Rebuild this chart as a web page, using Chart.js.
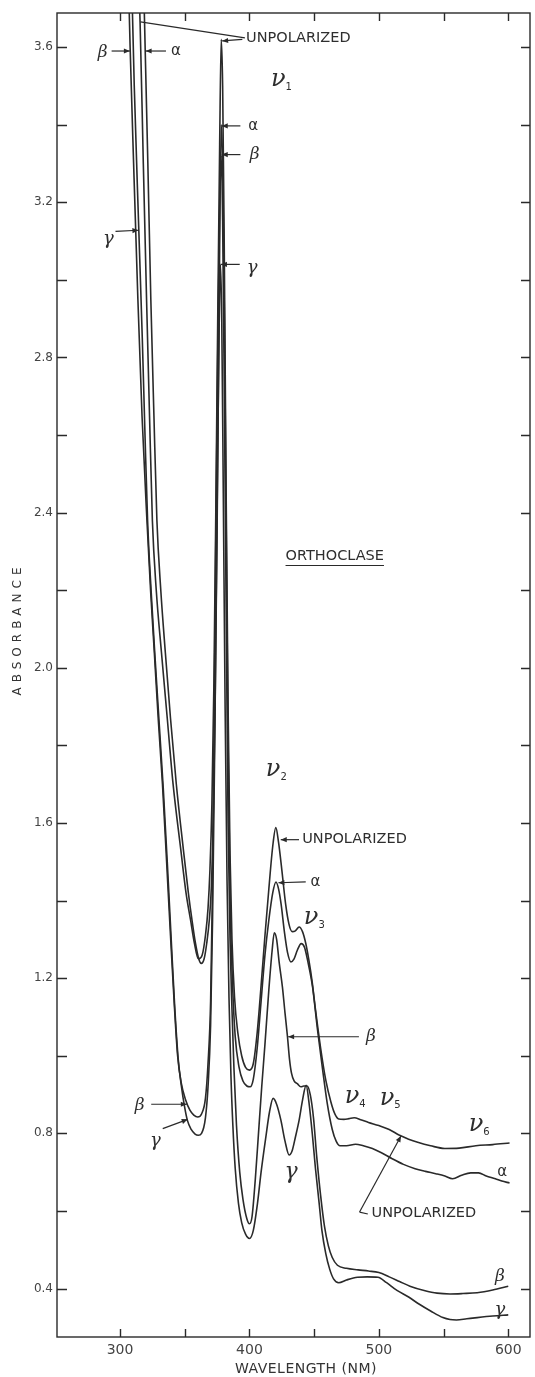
<!DOCTYPE html>
<html><head><meta charset="utf-8">
<script src="https://cdn.jsdelivr.net/npm/chart.js@4.4.1/dist/chart.umd.min.js"></script>
<style>html,body{margin:0;padding:0;background:#fff;}canvas{display:block;}</style>
</head><body>
<canvas id="c" width="535" height="1377"></canvas>
<script>
// ---- axis ticks ----
const xTickValues = [300,350,400,450,500,550,600];
const xTickLabels = ['300','','400','','500','','600'];
const yTickValues = [0.4,0.6,0.8,1.0,1.2,1.4,1.6,1.8,2.0,2.2,2.4,2.6,2.8,3.0,3.2,3.4,3.6];
const yTickLabels = ['0.4','','0.8','','1.2','','1.6','','2.0','','2.4','','2.8','','3.2','','3.6'];

// ---- series: unpolarized ----
const wlU = [313.8,315.5,318,320.5,322.8,325,328,332,336.5,341,347,351,354.5,357.5,360.5,363.5,366,368,369.5,371,372.5,374,375.5,377,378.2,379.3,380.5,382,383.5,385,386.5,388.5,391,394,397,400,403,406,409,412,415,418,420.4,422.5,425,428,430.5,433,435.5,438.4,441,443.5,446,448.5,451,455,459,463,466,469,473,477,481,486,492,500,508,516,523,530,540,551,562,575,588,601];
const absU = [3.8,3.665,3.3,2.95,2.65,2.38,2.2,2.04,1.87,1.70,1.53,1.42,1.35,1.29,1.25,1.26,1.31,1.38,1.48,1.65,1.95,2.4,2.9,3.35,3.62,3.5,3.1,2.45,1.9,1.52,1.3,1.15,1.06,1.0,0.97,0.963,0.98,1.06,1.18,1.31,1.43,1.54,1.588,1.55,1.48,1.39,1.34,1.32,1.322,1.332,1.32,1.29,1.245,1.19,1.12,1.02,0.937,0.88,0.85,0.837,0.836,0.838,0.84,0.835,0.828,0.82,0.81,0.795,0.785,0.777,0.768,0.761,0.762,0.768,0.771,0.775];
// ---- series: alpha ----
const wlA = [318,319.4,321.5,323.8,326.2,328.5,331.5,335,339,343.5,349,352.8,355.6,358.3,360.8,362.8,365,367,369,370.5,372,373.5,375,376.5,378.2,379.4,380.7,382.2,383.7,385.2,387,389,392,395,398,400.5,403,406,409,412,415,418,420.5,422.5,424.5,427,429.5,432,434.5,437,440,442.5,445,448.8,452.5,456.6,460,464,467,470,475,482,488,495,502,510,519,528,536,544,551,557,564,571,577,583,590,595,601];
const absA = [3.8,3.6,3.3,2.95,2.65,2.38,2.2,2.04,1.87,1.70,1.53,1.42,1.35,1.29,1.25,1.238,1.25,1.29,1.35,1.43,1.6,1.9,2.35,2.9,3.4,3.28,2.9,2.3,1.75,1.38,1.18,1.05,0.97,0.935,0.922,0.92,0.94,1.02,1.14,1.26,1.35,1.42,1.448,1.43,1.39,1.32,1.265,1.242,1.25,1.272,1.289,1.28,1.245,1.177,1.07,0.963,0.88,0.81,0.78,0.768,0.768,0.772,0.768,0.761,0.75,0.735,0.72,0.709,0.702,0.696,0.69,0.683,0.692,0.698,0.698,0.69,0.683,0.677,0.672];
// ---- series: beta ----
const wlB = [306.3,307.8,310.5,313.8,317,320.8,323.6,326.5,329.5,332.8,336,339,341.8,344.5,347.3,350.7,354,357,360,363,366,368,370,371.3,372.7,374.2,375.8,377.2,378.2,379.3,380.6,382,383.5,385,386.5,388,390,392.5,395,398,400,402,404.5,407,409.5,412,415,417.5,419.2,421,423,425.5,427.5,429.4,431,432.5,434.5,437,439.7,442,444.5,447,449.5,452,455,458,461,464,468,475,484,492,500,508,516,524,535,545,555,565,576,588,600];
const absB = [3.8,3.6,3.3,2.95,2.65,2.38,2.2,2.04,1.87,1.70,1.5,1.31,1.14,1.0,0.93,0.886,0.86,0.847,0.842,0.85,0.89,0.98,1.14,1.4,1.85,2.4,2.9,3.22,3.32,3.15,2.7,2.15,1.6,1.3,1.12,0.97,0.82,0.7,0.63,0.58,0.567,0.585,0.68,0.8,0.92,1.03,1.17,1.27,1.317,1.3,1.24,1.177,1.11,1.049,0.99,0.955,0.935,0.928,0.92,0.922,0.922,0.9,0.84,0.74,0.64,0.56,0.51,0.48,0.46,0.452,0.448,0.445,0.441,0.43,0.418,0.406,0.395,0.388,0.386,0.387,0.389,0.396,0.406];
// ---- series: gamma ----
const wlG = [308.8,311,314.4,317.2,319.3,321.3,324,327,330.2,333.4,336.5,339.4,342.2,345,347.5,349.8,352,355,358,360.5,363,366,368,370,371.5,373,374.7,376.3,377.6,378.6,379.8,381.2,382.7,384.2,385.7,387.2,389,391.5,394,397,400,403,406.2,409,412.7,415.5,418.3,421,424.3,427.5,430.7,433,435.5,438.4,441,443.8,446,448.8,451,453.9,456,459,462,465,469,475,483.5,491,499.3,506,514,523,531,540,549.5,555,560,568,576,588,600];
const absG = [3.8,3.5,3.14,2.85,2.6,2.38,2.2,2.03,1.86,1.69,1.5,1.31,1.13,0.99,0.92,0.87,0.834,0.81,0.798,0.795,0.8,0.84,0.92,1.08,1.35,1.75,2.3,2.8,3.04,2.9,2.45,1.9,1.45,1.15,0.95,0.82,0.71,0.62,0.57,0.54,0.529,0.55,0.619,0.7,0.791,0.855,0.89,0.875,0.834,0.78,0.744,0.755,0.79,0.834,0.885,0.924,0.88,0.791,0.71,0.619,0.55,0.49,0.45,0.425,0.415,0.422,0.429,0.43,0.429,0.415,0.395,0.378,0.36,0.342,0.325,0.32,0.319,0.322,0.325,0.329,0.332];

const pts = (w, a) => w.map((x, i) => ({x: x, y: a[i]}));

// ---- annotation texts / arrows in data coordinates ----
const SANS = 'DejaVu Sans';
const SERIF = 'DejaVu Serif';
const labelTexts = [
  {t:'UNPOLARIZED', x:397.4, y:3.622, align:'left', font:'14.5px '+SANS},
  {t:'β', x:286.5, y:3.585, font:'italic 17px '+SERIF},
  {t:'α', x:343.3, y:3.59, font:'15px '+SANS},
  {t:'γ', x:291, y:3.105, font:'italic 18px '+SERIF},
  {t:'α', x:403, y:3.397, font:'15px '+SANS},
  {t:'β', x:404, y:3.323, font:'italic 17px '+SERIF},
  {t:'γ', x:402, y:3.03, font:'italic 18px '+SERIF},
  {t:'ORTHOCLASE', x:427.9, y:2.287, align:'left', font:'14.5px '+SANS, underline:true},
  {t:'UNPOLARIZED', x:440.8, y:1.557, align:'left', font:'14.5px '+SANS},
  {t:'α', x:451, y:1.448, font:'15px '+SANS},
  {t:'β', x:493.9, y:1.049, font:'italic 17px '+SERIF},
  {t:'α', x:595.3, y:0.70, font:'15px '+SANS},
  {t:'UNPOLARIZED', x:494.4, y:0.595, align:'left', font:'14.5px '+SANS},
  {t:'β', x:315.1, y:0.872, font:'italic 17px '+SERIF},
  {t:'γ', x:327.4, y:0.78, font:'italic 18px '+SERIF},
  {t:'γ', x:432.1, y:0.70, font:'italic 22px '+SERIF},
  {t:'β', x:593.6, y:0.431, font:'italic 17px '+SERIF},
  {t:'γ', x:593.6, y:0.345, font:'italic 18px '+SERIF}
];
const nuLabels = [
  {sub:'1', x:424.6, y:3.51},
  {sub:'2', x:420.6, y:1.731},
  {sub:'3', x:450, y:1.35},
  {sub:'4', x:481.6, y:0.888},
  {sub:'5', x:508.6, y:0.885},
  {sub:'6', x:577.4, y:0.816}
];
const arrows = [
  {from:[394.5,3.62], to:[378.9,3.616], head:true},
  {from:[396.5,3.624], to:[315.8,3.665], head:false},
  {from:[293.5,3.59], to:[307.6,3.59], head:true},
  {from:[335.5,3.59], to:[319.8,3.59], head:true},
  {from:[296.5,3.125], to:[314.2,3.128], head:true},
  {from:[393,3.397], to:[378.6,3.397], head:true},
  {from:[393,3.323], to:[378.6,3.323], head:true},
  {from:[392.5,3.04], to:[378.0,3.04], head:true},
  {from:[438.3,1.557], to:[424.2,1.557], head:true},
  {from:[443.5,1.448], to:[422.4,1.446], head:true},
  {from:[484.6,1.049], to:[429.9,1.049], head:true},
  {from:[324.1,0.875], to:[351.6,0.875], head:true},
  {from:[333,0.812], to:[352.3,0.836], head:true},
  {from:[485.1,0.597], to:[517.1,0.793], head:true},
  {from:[485.1,0.597], to:[491.5,0.592], head:false}
];

const INK = '#2a2a2a';

function arrowHead(ctx, x0, y0, x1, y1) {
  const a = Math.atan2(y1 - y0, x1 - x0), L = 6, W = 2.6;
  ctx.beginPath();
  ctx.moveTo(x1, y1);
  ctx.lineTo(x1 - L*Math.cos(a) + W*Math.sin(a), y1 - L*Math.sin(a) - W*Math.cos(a));
  ctx.lineTo(x1 - L*Math.cos(a) - W*Math.sin(a), y1 - L*Math.sin(a) + W*Math.cos(a));
  ctx.closePath();
  ctx.fill();
}

const decor = {
  id: 'decor',
  afterDraw(chart) {
    const ctx = chart.ctx, ca = chart.chartArea;
    const xs = chart.scales.x, ys = chart.scales.y;
    ctx.save();
    ctx.strokeStyle = INK; ctx.fillStyle = INK; ctx.lineWidth = 1.4;
    // frame
    ctx.strokeRect(ca.left, ca.top, ca.right - ca.left, ca.bottom - ca.top);
    // inward ticks
    ctx.beginPath();
    xTickValues.forEach(v => {
      const p = Math.round(xs.getPixelForValue(v)) + 0.5;
      ctx.moveTo(p, ca.bottom); ctx.lineTo(p, ca.bottom - 8);
      ctx.moveTo(p, ca.top); ctx.lineTo(p, ca.top + 8);
    });
    yTickValues.forEach(v => {
      const p = Math.round(ys.getPixelForValue(v)) + 0.5;
      ctx.moveTo(ca.left, p); ctx.lineTo(ca.left + 10, p);
      ctx.moveTo(ca.right, p); ctx.lineTo(ca.right - 9, p);
    });
    ctx.stroke();

    // axis titles
    ctx.fillStyle = '#333';
    ctx.textAlign = 'center'; ctx.textBaseline = 'middle';
    ctx.font = '14px ' + SANS;
    try { ctx.letterSpacing = '0.5px'; } catch(e) {}
    ctx.fillText('WAVELENGTH (NM)', 306, 1369);
    ctx.save();
    ctx.translate(18, 631); ctx.rotate(-Math.PI/2);
    ctx.font = '12px ' + SANS;
    try { ctx.letterSpacing = '5px'; } catch(e) {}
    ctx.fillText('ABSORBANCE', 2, 0);
    ctx.restore();
    try { ctx.letterSpacing = '0px'; } catch(e) {}

    // arrows
    ctx.strokeStyle = INK; ctx.fillStyle = INK; ctx.lineWidth = 1.2;
    arrows.forEach(a => {
      const x0 = xs.getPixelForValue(a.from[0]), y0 = ys.getPixelForValue(a.from[1]);
      const x1 = xs.getPixelForValue(a.to[0]), y1 = ys.getPixelForValue(a.to[1]);
      ctx.beginPath(); ctx.moveTo(x0, y0); ctx.lineTo(x1, y1); ctx.stroke();
      if (a.head) arrowHead(ctx, x0, y0, x1, y1);
    });

    // text labels
    ctx.fillStyle = '#2e2e2e';
    ctx.textBaseline = 'middle';
    labelTexts.forEach(l => {
      ctx.font = l.font;
      ctx.textAlign = l.align || 'center';
      const x = xs.getPixelForValue(l.x), y = ys.getPixelForValue(l.y);
      ctx.fillText(l.t, x, y);
      if (l.underline) {
        const w = ctx.measureText(l.t).width;
        ctx.beginPath(); ctx.lineWidth = 1.2;
        ctx.moveTo(x, y + 9); ctx.lineTo(x + w, y + 9); ctx.stroke();
      }
    });
    // nu labels
    nuLabels.forEach(n => {
      const x = xs.getPixelForValue(n.x), y = ys.getPixelForValue(n.y);
      ctx.textAlign = 'left';
      ctx.font = 'italic 24px ' + SERIF;
      const w = ctx.measureText('ν').width;
      ctx.fillText('ν', x - w/2 - 3, y - 2);
      ctx.font = '10px ' + SANS;
      ctx.fillText(n.sub, x + w/2 - 3, y + 5);
    });
    ctx.restore();
  }
};

const lineStyle = {borderColor: INK, borderWidth: 1.6, pointRadius: 0, fill: false, cubicInterpolationMode: 'monotone'};

new Chart(document.getElementById('c'), {
  type: 'line',
  data: {
    datasets: [
      Object.assign({label: 'Unpolarized', data: pts(wlU, absU)}, lineStyle),
      Object.assign({label: 'α', data: pts(wlA, absA)}, lineStyle),
      Object.assign({label: 'β', data: pts(wlB, absB)}, lineStyle),
      Object.assign({label: 'γ', data: pts(wlG, absG)}, lineStyle)
    ]
  },
  options: {
    responsive: false,
    animation: false,
    devicePixelRatio: 1,
    layout: {padding: {left: 0, top: 13, right: 5, bottom: 0}},
    plugins: {legend: {display: false}, tooltip: {enabled: false}},
    scales: {
      x: {
        type: 'linear', min: 251.3, max: 616.8,
        afterFit: s => { s.height = 40; },
        afterBuildTicks: s => { s.ticks = xTickValues.map(v => ({value: v})); },
        grid: {display: false, drawTicks: false},
        border: {display: false},
        ticks: {autoSkip: false, maxRotation: 0, padding: 5, color: '#444',
          font: {family: SANS, size: 14},
          callback: (v, i) => xTickLabels[i]}
      },
      y: {
        type: 'linear', min: 0.275, max: 3.688,
        afterFit: s => { s.width = 57; },
        afterBuildTicks: s => { s.ticks = yTickValues.map(v => ({value: v})); },
        grid: {display: false, drawTicks: false},
        border: {display: false},
        ticks: {autoSkip: false, padding: 4, color: '#444',
          font: {family: SANS, size: 12},
          callback: (v, i) => yTickLabels[i]}
      }
    }
  },
  plugins: [decor]
});
</script>
</body></html>
